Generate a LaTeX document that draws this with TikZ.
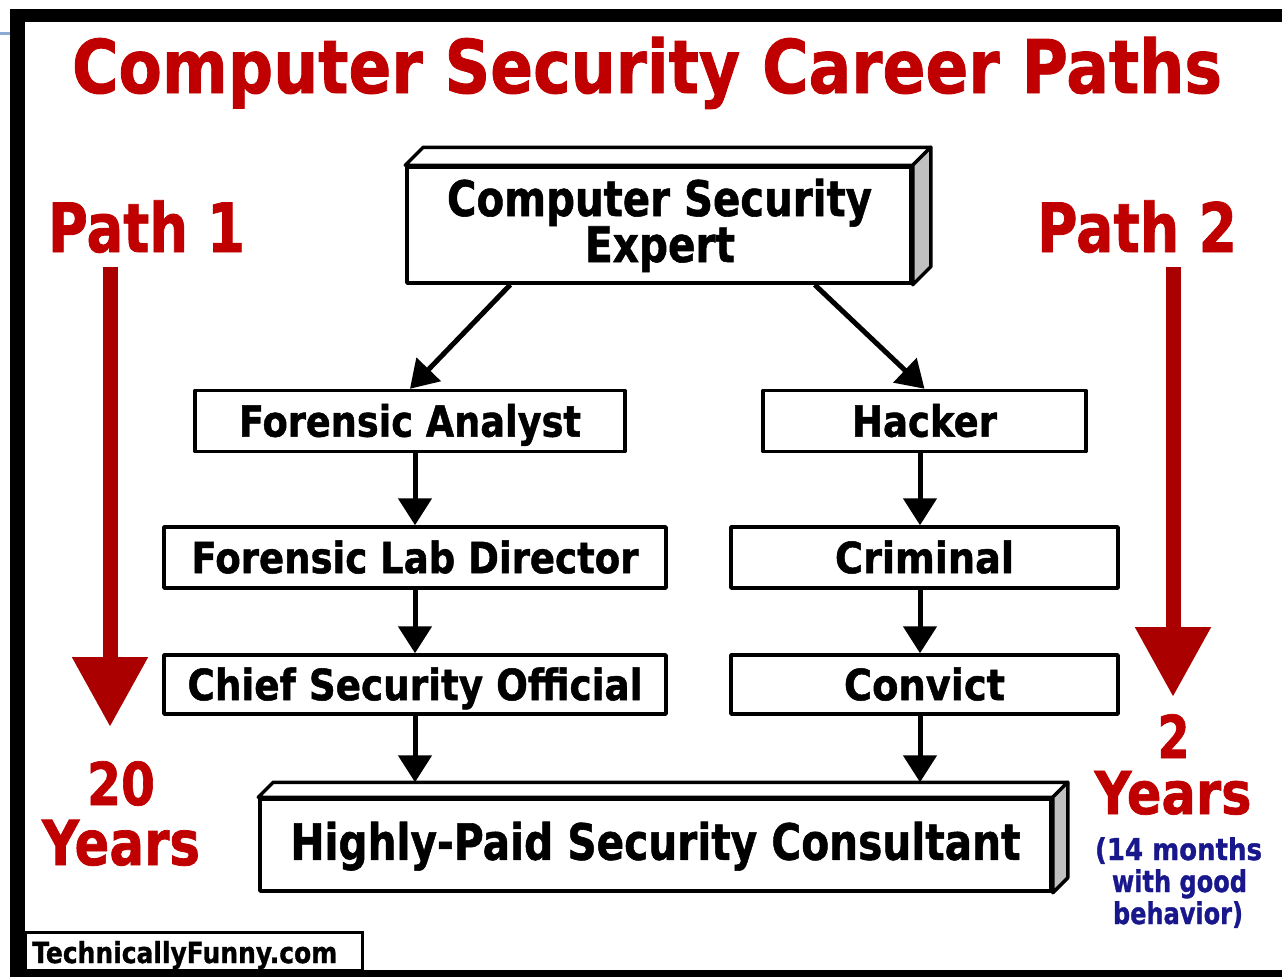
\documentclass[tikz,border=0pt]{standalone}
\usepackage{fontspec}
\setmainfont{DejaVu Sans}[BoldFeatures={FakeBold=1.2}]
\usetikzlibrary{arrows.meta,calc}
\definecolor{titlered}{RGB}{192,0,0}
\definecolor{arrowred}{RGB}{170,0,0}
\definecolor{noteblue}{RGB}{24,24,140}
\definecolor{sidegrey}{RGB}{192,192,192}
\definecolor{edgeblue}{RGB}{140,170,210}
% bold text squeezed to a given width, keeping its height
\newcommand\fitto[3]{\resizebox{#1}{\height}{\fontsize{#2}{#2}\selectfont\bfseries #3}}
% top and right faces of a raised box
\newcommand\extrude[2]{%
  \draw[boxline, fill=white] (#1.north west) -- ++(#2,-#2) -- ($(#1.north east)+(#2,-#2)$) -- (#1.north east) -- cycle;
  \draw[boxline, fill=sidegrey] (#1.north east) -- ++(#2,-#2) -- ($(#1.south east)+(#2,-#2)$) -- (#1.south east) -- cycle;}
\begin{document}
\begin{tikzpicture}[x=1pt,y=-1pt,
  boxline/.style={draw=black, line width=3.5pt, line join=round},
  careerbox/.style={boxline, fill=white, inner sep=0pt, text height=31.3pt, text depth=0pt, minimum height=61pt},
  flow/.style={draw=black, line width=5pt, -{Triangle[width=33pt,length=27pt]}},
  bigarrow/.style={draw=arrowred, line width=15pt, -{Triangle[width=72pt,length=70pt]}},
  label/.style={anchor=base, inner sep=0pt},
]
\useasboundingbox (0,0) rectangle (1282,977);
\fill[white] (0,0) rectangle (1282,977);

% heading
\node[label, text=titlered] (title) at (647,93) {\fitto{1150pt}{74}{Computer Security Career Paths}};

% path labels and time spans
\node[label, text=titlered] (path1) at (146.5,252) {\fitto{197pt}{68}{Path 1}};
\node[label, text=titlered] (path2) at (1137,252) {\fitto{200pt}{68}{Path 2}};
\node[label, text=titlered] (twenty) at (121,805) {\fitto{68pt}{59}{20}};
\node[label, text=titlered] (yearsL) at (121,865) {\fitto{158pt}{62}{Years}};
\node[label, text=titlered] (two) at (1173.5,758) {\fitto{32pt}{59}{2}};
\node[label, text=titlered] (yearsR) at (1173,814) {\fitto{157pt}{59}{Years}};
\node[label, text=noteblue] (noteA) at (1178.5,860) {\fitto{167pt}{30}{(14 months}};
\node[label, text=noteblue] (noteB) at (1179.5,892) {\fitto{135pt}{30}{with good}};
\node[label, text=noteblue] (noteC) at (1178,924) {\fitto{130pt}{30}{behavior)}};

% long red arrows
\coordinate (p1top) at (110,267);
\coordinate (p1end) at (110,727);
\coordinate (p2top) at (1173,267);
\coordinate (p2end) at (1173,697);
\draw[bigarrow] (p1top) -- (p1end);
\draw[bigarrow] (p2top) -- (p2end);

% career boxes
\node[boxline, fill=white, minimum width=504pt, minimum height=116pt] (cse) at (659,225) {};
\extrude{cse}{18}
\node[label] (cseA) at (659.5,216) {\fitto{425pt}{49}{Computer Security}};
\node[label] (cseB) at (660,262) {\fitto{150pt}{49}{Expert}};

\node[careerbox, minimum width=430pt] (fa) at (410,421) {\fitto{342pt}{43}{Forensic Analyst}};
\node[careerbox, minimum width=323pt] (hk) at (924.5,421) {\fitto{145pt}{43}{Hacker}};
\node[careerbox, minimum width=502pt] (ld) at (415,557.5) {\fitto{447pt}{43}{Forensic Lab Director}};
\node[careerbox, minimum width=387pt] (cr) at (924.5,557.5) {\fitto{179pt}{43}{Criminal}};
\node[careerbox, minimum width=502pt, minimum height=59pt] (cs) at (415,684.5) {\fitto{455pt}{43}{Chief Security Official}};
\node[careerbox, minimum width=387pt, minimum height=59pt] (cv) at (924.5,684.5) {\fitto{161pt}{43}{Convict}};

\node[careerbox, minimum width=791pt, minimum height=92pt, text height=36.5pt, text depth=7pt] (hp) at (655.5,845) {\fitto{730pt}{50}{Highly-Paid Security Consultant}};
\extrude{hp}{15}
\coordinate (hpback) at ($(hp.north)+(0,-15)$);

% connectors (the right column runs a little left of the box centres)
\coordinate (rcol) at ($(cr.north)+(-4.5,0)$);
\draw[flow] ($(cse.south west)+(105,0)$) -- (fa.north);
\draw[flow] ($(cse.south east)+(-98,0)$) -- (hk.north);
\draw[flow] (fa.south -| ld.north) -- (ld.north);
\draw[flow] (ld.south) -- (cs.north);
\draw[flow] (cs.south) -- (cs.south |- hpback);
\draw[flow] (hk.south -| rcol) -- (cr.north -| rcol);
\draw[flow] (cr.south -| rcol) -- (cv.north -| rcol);
\draw[flow] (cv.south -| rcol) -- (hpback -| rcol);

% credit line
\draw[draw=black, line width=3pt, fill=white] (25,932) rectangle (362,970);
\node[anchor=base west, inner sep=0pt] (site) at (32,963) {\fitto{305pt}{29}{TechnicallyFunny.com}};

% frame
\fill[edgeblue] (0,31.5) rectangle (10,34.5);
\fill[black] (10,9) rectangle (1282,22);
\fill[black] (10,9) rectangle (25,977);
\fill[black] (10,970) rectangle (1282,977);
\end{tikzpicture}
\end{document}
